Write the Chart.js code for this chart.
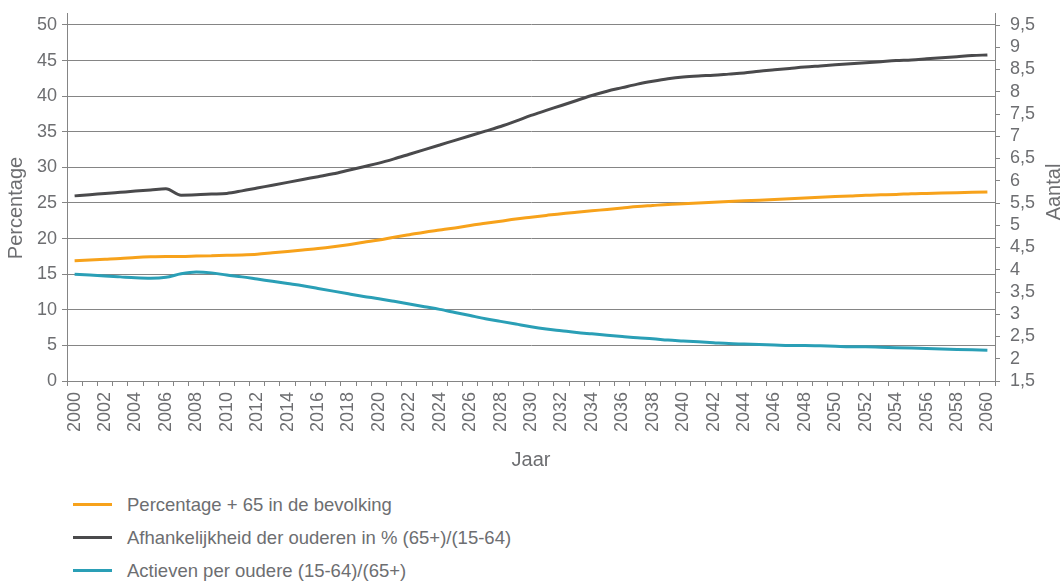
<!DOCTYPE html>
<html lang="nl">
<head>
<meta charset="utf-8">
<title>Vergrijzing 2000-2060</title>
<script src="https://cdn.jsdelivr.net/npm/chart.js@4.4.1/dist/chart.umd.min.js"></script>
<style>
  html, body { margin: 0; padding: 0; background: #fff; }
  body { width: 1064px; height: 581px; overflow: hidden; position: relative; font-family: "Liberation Sans", Arial, sans-serif; color: #6d6e71; }
  #wrap { position: absolute; left: 0; top: 0; width: 1064px; height: 476px; }
  #legend { list-style: none; margin: 0; padding: 0; position: absolute; left: 73px; top: 488px; }
  #legend li { display: flex; align-items: center; height: 33px; font-size: 18.5px; }
  #legend .swatch { display: inline-block; width: 39px; height: 3px; margin-right: 15px; }
</style>
</head>
<body>
<div id="wrap"><canvas id="chart"></canvas></div>
<ul id="legend"></ul>
<script>
// --- Gegevens ---

const years = [
  2000, 2001, 2002, 2003, 2004, 2005, 2006, 2007, 2008, 2009,
  2010, 2011, 2012, 2013, 2014, 2015, 2016, 2017, 2018, 2019,
  2020, 2021, 2022, 2023, 2024, 2025, 2026, 2027, 2028, 2029,
  2030, 2031, 2032, 2033, 2034, 2035, 2036, 2037, 2038, 2039,
  2040, 2041, 2042, 2043, 2044, 2045, 2046, 2047, 2048, 2049,
  2050, 2051, 2052, 2053, 2054, 2055, 2056, 2057, 2058, 2059,
  2060
];

// Percentage 65+ in de bevolking (linkeras)
const pct65 = [
  16.9, 17.0, 17.1, 17.2, 17.35, 17.45, 17.5, 17.5, 17.55, 17.6,
  17.65, 17.7, 17.8, 18.0, 18.2, 18.4, 18.6, 18.85, 19.15, 19.5,
  19.8, 20.2, 20.55, 20.9, 21.2, 21.5, 21.85, 22.15, 22.45, 22.75,
  23.0, 23.25, 23.5, 23.7, 23.9, 24.1, 24.3, 24.5, 24.65, 24.8,
  24.9, 25.0, 25.1, 25.2, 25.3, 25.4, 25.5, 25.6, 25.7, 25.8,
  25.9, 26.0, 26.1, 26.15, 26.2, 26.3, 26.35, 26.4, 26.45, 26.5,
  26.55
];

// Afhankelijkheid der ouderen in % (linkeras)
const afhankelijkheid = [
  26.0, 26.17, 26.33, 26.5, 26.67, 26.83, 27.0, 26.1, 26.15, 26.25,
  26.35, 26.7, 27.1, 27.5, 27.9, 28.3, 28.7, 29.1, 29.6, 30.1,
  30.6, 31.2, 31.85, 32.5, 33.15, 33.8, 34.45, 35.1, 35.75, 36.5,
  37.3, 38.0, 38.7, 39.4, 40.1, 40.7, 41.2, 41.7, 42.1, 42.45,
  42.7, 42.85, 42.95, 43.1, 43.25, 43.5, 43.7, 43.9, 44.1, 44.25,
  44.4, 44.55, 44.7, 44.85, 45.0, 45.1, 45.25, 45.4, 45.55, 45.7,
  45.8
];

// Actieven per oudere (rechteras)
const actievenPerOudere = [
  3.90, 3.88, 3.86, 3.84, 3.82, 3.81, 3.83, 3.91, 3.95, 3.93,
  3.88, 3.84, 3.79, 3.74, 3.69, 3.64, 3.58, 3.52, 3.46, 3.40,
  3.35, 3.29, 3.23, 3.17, 3.11, 3.04, 2.97, 2.90, 2.84, 2.78,
  2.72, 2.67, 2.63, 2.59, 2.56, 2.53, 2.50, 2.47, 2.45, 2.42,
  2.40, 2.38, 2.36, 2.34, 2.33, 2.32, 2.31, 2.30, 2.30, 2.29,
  2.28, 2.27, 2.27, 2.26, 2.25, 2.24, 2.23, 2.22, 2.21, 2.20,
  2.19
];

const percentTicks = [0, 5, 10, 15, 20, 25, 30, 35, 40, 45, 50];
const aantalTicks = [1.5, 2, 2.5, 3, 3.5, 4, 4.5, 5, 5.5, 6, 6.5, 7, 7.5, 8, 8.5, 9, 9.5];

// --- Opmaak ---

const TEXT = '#6d6e71';
const LINE = '#858585';
const FONT = '"Liberation Sans", Arial, sans-serif';

const seriesDefs = [
  { label: 'Percentage + 65 in de bevolking', data: pct65, color: '#f7a21b', axis: 'y' },
  { label: 'Afhankelijkheid der ouderen in % (65+)/(15-64)', data: afhankelijkheid, color: '#4a4a4c', axis: 'y' },
  { label: 'Actieven per oudere (15-64)/(65+)', data: actievenPerOudere, color: '#2a9fb6', axis: 'y1' }
];

// De verticale astitels staan los van de assen
const axisTitles = {
  id: 'axisTitles',
  afterDraw(chart) {
    const ctx = chart.ctx;
    ctx.save();
    ctx.fillStyle = TEXT;
    ctx.font = `20px ${FONT}`;
    ctx.textAlign = 'center';
    ctx.textBaseline = 'middle';
    [['Percentage', 16, 208], ['Aantal', 1054, 192]].forEach(([text, x, y]) => {
      ctx.save();
      ctx.translate(x, y);
      ctx.rotate(-Math.PI / 2);
      ctx.fillText(text, 0, 0);
      ctx.restore();
    });
    ctx.restore();
  }
};

// vaste breedte, en geen extra ruimte boven/onder voor de labels
const fixVertical = width => s => {
  s.width = width;
  s.paddingTop = 0;
  s.paddingBottom = 0;
};

const chart = new Chart(document.getElementById('chart'), {
  type: 'line',
  data: {
    labels: years,
    datasets: seriesDefs.map(s => ({
      label: s.label,
      data: s.data,
      yAxisID: s.axis,
      borderColor: s.color,
      backgroundColor: s.color,
      borderWidth: 3,
      pointRadius: 0,
      cubicInterpolationMode: 'monotone'
    }))
  },
  options: {
    responsive: true,
    maintainAspectRatio: false,
    animation: false,
    layout: { padding: { top: 13 } },
    plugins: { legend: { display: false }, tooltip: { enabled: false } },
    scales: {
      x: {
        offset: true,
        grid: { offset: true, drawOnChartArea: false, tickLength: 5, color: LINE },
        border: { color: LINE },
        ticks: {
          autoSkip: false, maxRotation: 90, minRotation: 90, padding: 6,
          color: TEXT, font: { family: FONT, size: 18 },
          callback: (v, i) => (i % 2 === 0 ? years[i] : '')
        },
        title: { display: true, text: 'Jaar', color: TEXT, font: { family: FONT, size: 20 } },
        afterFit: s => { s.height = 95; }
      },
      y: {
        position: 'left',
        min: 0,
        max: 51.685,
        afterBuildTicks: s => { s.ticks = percentTicks.map(v => ({ value: v })); },
        grid: { color: LINE, tickLength: 5 },
        border: { color: LINE },
        ticks: { autoSkip: false, color: TEXT, font: { family: FONT, size: 18 }, padding: 5 },
        afterFit: fixVertical(67)
      },
      y1: {
        position: 'right',
        min: 1.5,
        max: 9.77,
        afterBuildTicks: s => { s.ticks = aantalTicks.map(v => ({ value: v })); },
        grid: { drawOnChartArea: false, color: LINE, tickLength: 5 },
        border: { color: LINE },
        ticks: {
          autoSkip: false, color: TEXT, font: { family: FONT, size: 18 }, padding: 10,
          callback: v => String(v).replace('.', ',')
        },
        afterFit: fixVertical(69)
      }
    }
  },
  plugins: [axisTitles]
});

// Legenda onder de grafiek, één reeks per regel
const legendEl = document.getElementById('legend');
chart.data.datasets.forEach(ds => {
  const li = document.createElement('li');
  const swatch = document.createElement('span');
  swatch.className = 'swatch';
  swatch.style.background = ds.borderColor;
  li.appendChild(swatch);
  li.appendChild(document.createTextNode(ds.label));
  legendEl.appendChild(li);
});
</script>
</body>
</html>
